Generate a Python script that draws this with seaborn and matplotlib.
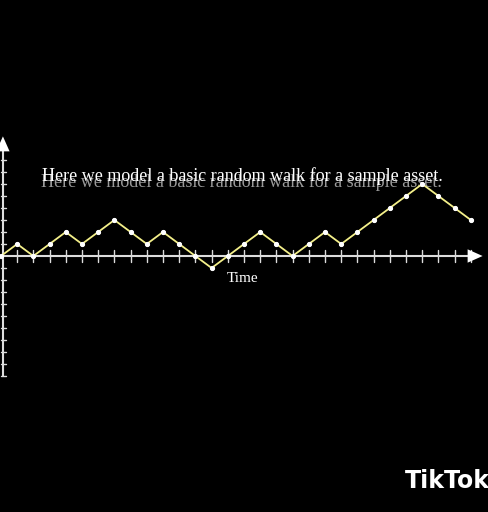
import matplotlib
matplotlib.use("Agg")
import matplotlib.pyplot as plt
import seaborn as sns
import numpy as np
import pandas as pd

time = list(range(30))
value = [0,1,0,1,2,1,2,3,2,1,2,1,0,-1,0,1,2,1,0,1,2,1,2,3,4,5,6,5,4,3]
title = "Here we model a basic random walk for a sample asset."
xlabel = "Time"

sns.set_theme(style="dark")
plt.rcParams['font.family'] = ['Liberation Serif', 'DejaVu Serif']
fig = plt.figure(figsize=(4.88, 5.12), dpi=100, facecolor="black")
ax = fig.add_axes([0, 0, 1, 1])
ax.set_facecolor("black")

ax.plot([0, 29.3], [0, 0], color="#dddddd", lw=1.5, zorder=1)
ax.annotate("", xy=(29.9, 0), xytext=(29.2, 0),
            arrowprops=dict(arrowstyle="-|>,head_width=0.4,head_length=0.9", color="white", lw=0))
for t in range(1, 30):
    ax.plot([t, t], [-0.5, 0.5], color="#dddddd", lw=1, zorder=1)
ax.plot([0.12, 0.12], [-10, 9.3], color="#dddddd", lw=1.5, zorder=1)
ax.annotate("", xy=(0.12, 10.2), xytext=(0.12, 9.0),
            arrowprops=dict(arrowstyle="-|>,head_width=0.4,head_length=0.9", color="white", lw=0))
for v in range(-10, 10):
    if v != 0:
        ax.plot([0.0, 0.3], [v, v], color="#dddddd", lw=1, zorder=1)

df = pd.DataFrame({"time": time, "value": value})
sns.lineplot(data=df, x="time", y="value", ax=ax, color="#f4f08a", lw=1.3,
             marker="o", markersize=3, markerfacecolor="white", markeredgecolor="white", zorder=3)
ax.set_xlim(-0.06, 30.06)
ax.set_ylim(-21.33, 21.33)
ax.axis("off")

ax.text(14.85, 6.15, title, color="#999999", fontsize=13, ha="center", va="center", zorder=2)
ax.text(14.9, 6.7, title, color="white", fontsize=13, ha="center", va="center", zorder=4)
ax.text(14.9, -1.9, xlabel, color="white", fontsize=11, ha="center", va="center")
fig.text(0.83, 0.06, "TikTok", color="white", fontsize=17, fontweight="bold",
         family=['DejaVu Sans'], ha="left", va="center")
fig.savefig("out.png", dpi=100, facecolor="black")
